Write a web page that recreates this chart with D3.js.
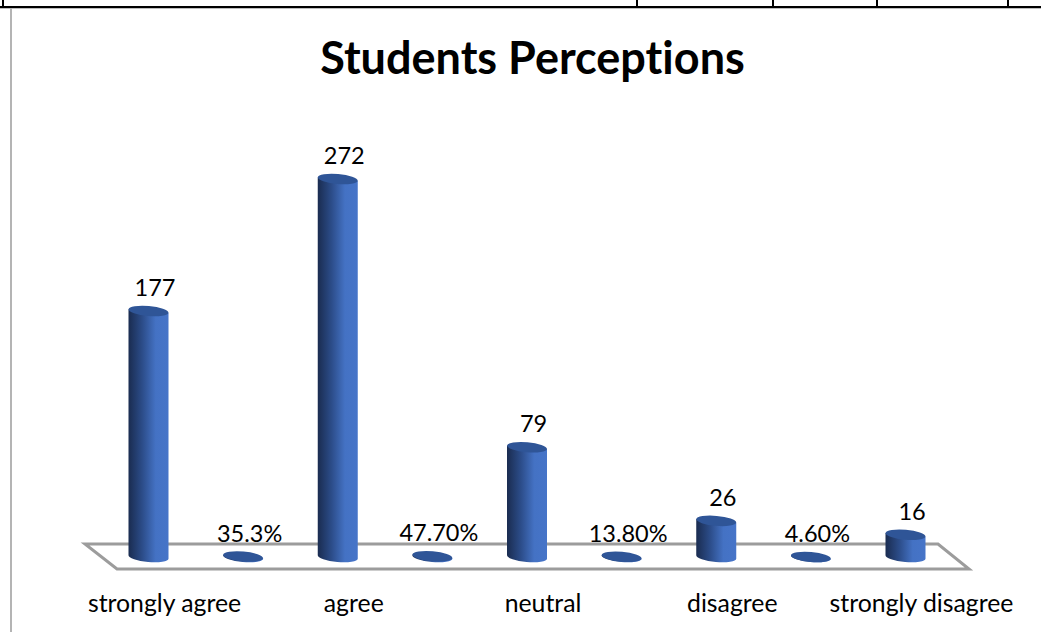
<!DOCTYPE html>
<html>
<head>
<meta charset="utf-8">
<title>Students Perceptions</title>
<script src="https://cdn.jsdelivr.net/npm/d3@7"></script>
<style>
html, body { margin: 0; padding: 0; background: #fff; overflow: hidden; }
text { font-family: Lato, "Open Sans", sans-serif; fill: #000; font-variant-ligatures: none; }
</style>
</head>
<body>
<div id="chart"></div>
<script>
/* one slot per column: the survey counts alternate with their percentages */
var categories = ["strongly agree", "", "agree", "", "neutral", "", "disagree", "", "strongly disagree"];
var values = [177, 0.353, 272, 0.477, 79, 0.138, 26, 0.046, 16];
var valueLabels = ["177", "35.3%", "272", "47.70%", "79", "13.80%", "26", "4.60%", "16"];
var title = "Students Perceptions";
/* page furniture: table rules of the surrounding document */
var ruleTicks = [3, 637, 773, 877, 1008];

var width = 1041, height = 632;
var tilt = 5, rx = 20, ry = 5;

function translate(x, y) {
    return "translate(" + x + "," + y + ")";
}

var x = d3.scalePoint()
    .domain(d3.range(values.length))
    .range([148.5, 905.5]);

var y = d3.scaleLinear()
    .domain([0, 272])
    .range([557, 179]);

var svg = d3.select("#chart").append("svg")
    .attr("width", width)
    .attr("height", height)
    .style("display", "block");

/* left to right shading of the cylinders */
var grad = svg.append("defs").append("linearGradient")
    .attr("id", "cyl");
grad.append("stop").attr("offset", "0%").attr("stop-color", "#1a2c50");
grad.append("stop").attr("offset", "35%").attr("stop-color", "#2c4d8a");
grad.append("stop").attr("offset", "68%").attr("stop-color", "#4472c4");
grad.append("stop").attr("offset", "100%").attr("stop-color", "#4674c8");

/* surrounding document lines */
svg.append("line").attr("x1", 0).attr("x2", width).attr("y1", 8.5).attr("y2", 8.5)
    .attr("stroke", "#bdbdbd").attr("stroke-width", 1);
svg.append("line").attr("x1", 11).attr("x2", 11).attr("y1", 8).attr("y2", height)
    .attr("stroke", "#b4b4b4").attr("stroke-width", 2);
svg.append("line").attr("x1", 0).attr("x2", width).attr("y1", 7).attr("y2", 7)
    .attr("stroke", "#000").attr("stroke-width", 2);
svg.selectAll(".rule").data(ruleTicks).enter().append("line")
    .attr("class", "rule")
    .attr("x1", function(d) { return d; }).attr("x2", function(d) { return d; })
    .attr("y1", 0).attr("y2", 7)
    .attr("stroke", "#000").attr("stroke-width", 2);

svg.append("text")
    .attr("x", 532.5)
    .attr("y", 74)
    .attr("text-anchor", "middle")
    .attr("font-size", 45)
    .attr("font-weight", 700)
    .text(title);

/* 3D floor of the chart, drawn behind the bars */
var floorBack = y(0) - 13, floorFront = y(0) + 12;
svg.append("path")
    .attr("d", d3.line()([[85, floorBack], [938, floorBack], [969, floorFront], [117, floorFront]]) + "Z")
    .attr("fill", "none")
    .attr("stroke", "#9c9c9c")
    .attr("stroke-width", 3);

var bar = svg.selectAll(".bar")
    .data(values)
  .enter().append("g")
    .attr("class", "bar")
    .attr("transform", function(d, i) { return translate(x(i), 0); });

function cylinder(d) {
    var dy = rx * Math.sin(tilt * Math.PI / 180);
    var top = y(d), base = y(0);
    return "M" + (-rx) + "," + (top - dy) +
        "L" + (-rx) + "," + (base - dy) +
        "A" + rx + "," + ry + " " + tilt + " 0 0 " + rx + "," + (base + dy) +
        "L" + rx + "," + (top + dy) + "Z";
}

bar.append("path")
    .attr("d", cylinder)
    .attr("fill", "url(#cyl)");

bar.append("ellipse")
    .attr("rx", rx)
    .attr("ry", ry)
    .attr("transform", function(d) { return translate(0, y(d)) + " rotate(" + tilt + ")"; })
    .attr("fill", "#2f5597");

bar.append("text")
    .attr("x", 6.5)
    .attr("y", function(d) { return y(d) - 15; })
    .attr("text-anchor", "middle")
    .attr("font-size", 23.5)
    .text(function(d, i) { return valueLabels[i]; });

/* category labels sit further right because of the perspective */
var axis = d3.axisBottom(x)
    .tickSize(0)
    .tickPadding(0)
    .tickFormat(function(i) { return categories[i]; });

svg.append("g")
    .attr("class", "x axis")
    .attr("transform", translate(15.5, 594))
    .call(axis)
    .call(function(g) { g.select(".domain").remove(); })
    .selectAll("text")
    .attr("font-size", 24.8)
    .attr("fill", "#000")
    .attr("dy", "0.71em");
</script>
</body>
</html>
